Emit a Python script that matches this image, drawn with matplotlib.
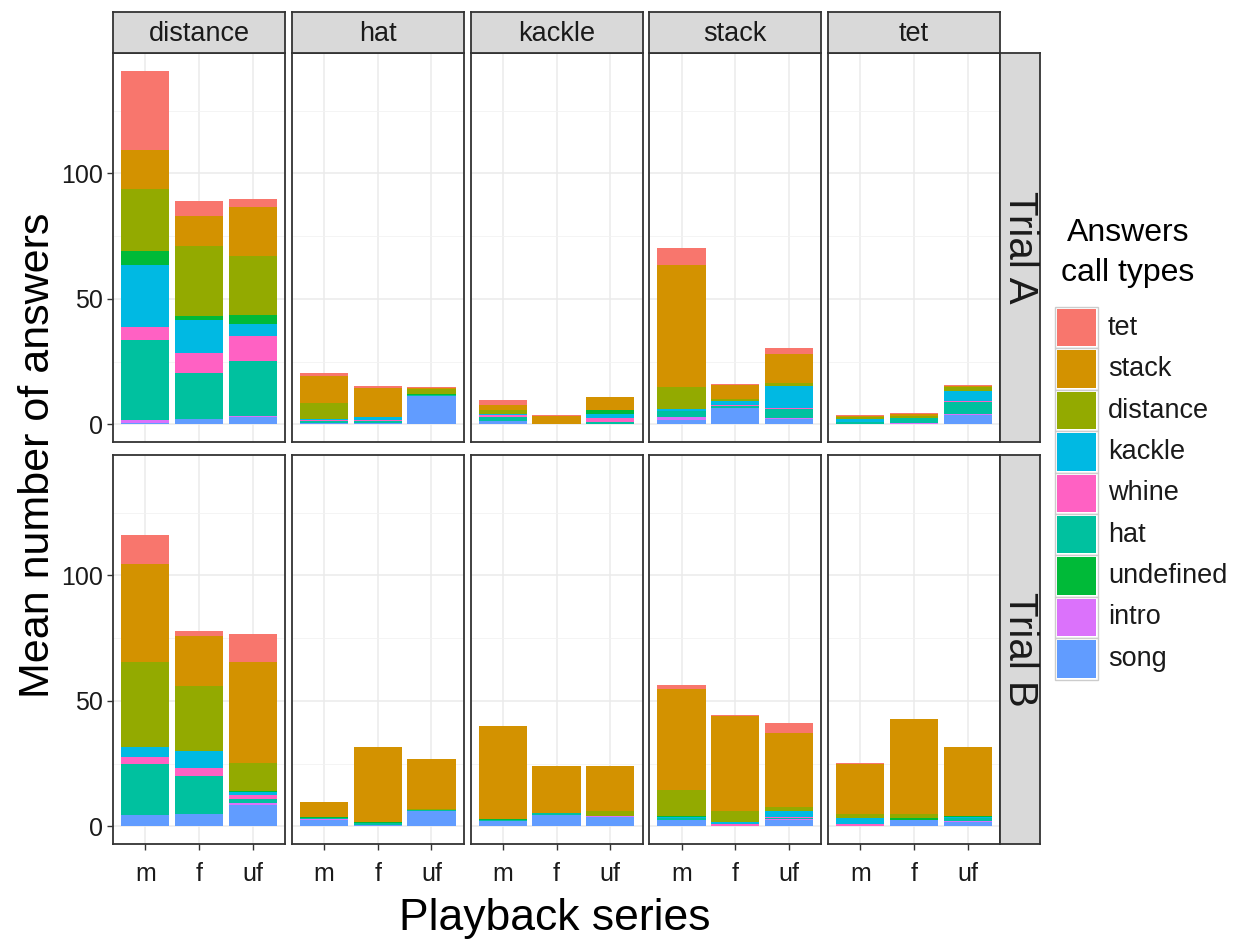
import matplotlib
matplotlib.use('Agg')
import matplotlib.pyplot as plt
from matplotlib.patches import Rectangle
import numpy as np

plt.rcParams['font.family'] = ['Liberation Sans', 'DejaVu Sans']

W, H = 1243, 947

series = ['m', 'f', 'uf']
playback = ['distance', 'hat', 'kackle', 'stack', 'tet']
trials = ['Trial A', 'Trial B']
stack_order = ['song', 'intro', 'hat', 'whine', 'kackle', 'undefined', 'distance', 'stack', 'tet']
legend_order = ['tet', 'stack', 'distance', 'kackle', 'whine', 'hat', 'undefined', 'intro', 'song']
colors = {'tet': '#F8766D', 'stack': '#D39200', 'distance': '#93AA00', 'undefined': '#00BA38',
          'hat': '#00C19F', 'kackle': '#00B9E3', 'song': '#619CFF', 'intro': '#DB72FB',
          'whine': '#FF61C3'}
yticks = [0, 50, 100]

# values: [trial][playback][series m, f, uf]
song = [
    [[0.5, 2.3, 2.9], [0.7, 0.6, 11.1], [1.2, 0, 0.3], [1.6, 6.4, 2.0], [0, 0, 3.6]],
    [[4.4, 5.0, 8.4], [2.6, 0.7, 6.2], [2.2, 4.4, 3.6], [2.4, 0.3, 2.4], [0, 2.7, 1.7]]]
intro = [
    [[1.3, 0, 0.5], [0, 0, 0], [0, 0, 0], [1.3, 0, 0.4], [0, 0.4, 0.7]],
    [[0, 0, 0.7], [0.2, 0, 0], [0, 0, 0.4], [0, 0, 0.6], [0, 0, 0.5]]]
hat = [
    [[31.8, 18.3, 22.0], [0.7, 0.7, 0.5], [1.8, 0.3, 0.8], [2.6, 0.8, 3.6], [1.0, 2.0, 4.4]],
    [[20.3, 15.0, 1.6], [0.5, 0.5, 0.4], [0.3, 0.8, 0.1], [0.9, 0, 0.5], [0, 0, 1.0]]]
whine = [
    [[5.2, 7.9, 9.8], [0.5, 0.5, 0], [0.6, 0, 1.6], [0, 0.5, 0.4], [0, 0, 0.4]],
    [[3.0, 3.2, 1.7], [0, 0, 0], [0, 0, 0], [0, 0.6, 0.3], [0.9, 0, 0]]]
kackle = [
    [[24.8, 13.0, 4.8], [0.3, 1.0, 0], [0.5, 0, 1.6], [0.8, 1.6, 8.7], [1.0, 0, 4.2]],
    [[3.8, 7.0, 1.3], [0, 0, 0], [0, 0, 0], [0.3, 0.8, 2.2], [2.3, 0, 0.4]]]
undefined = [
    [[5.4, 1.6, 3.7], [0, 0.2, 0.3], [0, 0, 1.3], [0, 0, 0], [0, 0, 0]],
    [[0, 0, 0.3], [0.5, 0.5, 0], [0.5, 0, 0], [0.4, 0, 0], [0, 0.7, 0.4]]]
distance = [
    [[24.6, 27.9, 23.2], [6.1, 0, 2.0], [1.5, 0, 0], [8.5, 0.7, 1.2], [0.9, 0.9, 1.7]],
    [[33.8, 25.9, 11.4], [0, 0, 0.4], [0, 0, 1.9], [10.3, 4.6, 1.5], [1.6, 1.7, 0]]]
stack = [
    [[15.6, 11.9, 19.6], [11.0, 11.6, 0.5], [2.2, 3.0, 5.3], [48.7, 5.7, 11.9], [0.5, 0.8, 0.3]],
    [[39.1, 19.6, 40.1], [5.7, 29.8, 19.8], [36.8, 18.7, 18.0], [40.4, 37.6, 29.8], [20.2, 37.6, 27.8]]]
tet = [
    [[31.7, 6.0, 3.2], [1.0, 0.5, 0.3], [1.7, 0.4, 0], [6.6, 0.3, 2.4], [0.4, 0.5, 0.3]],
    [[11.5, 2.0, 11.3], [0, 0.2, 0], [0, 0, 0], [1.5, 0.3, 3.8], [0.3, 0, 0]]]

values = {'song': song, 'intro': intro, 'hat': hat, 'whine': whine, 'kackle': kackle,
          'undefined': undefined, 'distance': distance, 'stack': stack, 'tet': tet}

fig = plt.figure(figsize=(W / 100, H / 100), dpi=100)


def rect(left, top, w, h):
    return [left / W, 1 - (top + h) / H, w / W, h / H]


border = '#333333'
panel_w = 172
col_step = 178.75
x0 = 113
row_tops = [53, 455]
panel_h = 389

ymax = max(sum(values[k][r][c][s] for k in stack_order)
           for r in range(2) for c in range(5) for s in range(3))
ylim = (-0.05 * ymax, 1.05 * ymax)

x = np.arange(1, 4)
for r in range(2):
    for c in range(5):
        left = x0 + c * col_step
        ax = fig.add_axes(rect(left, row_tops[r], panel_w, panel_h))
        bottom = np.zeros(3)
        for k in stack_order:
            v = np.array(values[k][r][c], dtype=float)
            ax.bar(x, v, width=0.9, bottom=bottom, color=colors[k], linewidth=0, zorder=3)
            bottom += v
        ax.set_xlim(0.4, 3.6)
        ax.set_ylim(*ylim)
        ax.set_yticks(yticks)
        ax.set_yticks([25, 75, 125], minor=True)
        ax.set_xticks(x)
        ax.grid(True, which='major', color='#EBEBEB', lw=1.1, zorder=0)
        ax.grid(True, which='minor', axis='y', color='#F2F2F2', lw=0.6, zorder=0)
        ax.set_axisbelow(True)
        for sp in ax.spines.values():
            sp.set_color(border)
            sp.set_linewidth(1.3)
        ax.tick_params(which='minor', length=0)
        ax.tick_params(which='major', length=4, width=1, color=border,
                       labelsize=18, labelcolor='#1A1A1A')
        if c == 0:
            ax.set_yticklabels([str(t) for t in yticks])
        else:
            ax.tick_params(axis='y', length=0, labelleft=False)
        if r == 1:
            ax.set_xticklabels(series)
            ax.tick_params(axis='x', pad=9)
        else:
            ax.tick_params(axis='x', length=0, labelbottom=False)

        # top strips
        if r == 0:
            sa = fig.add_axes(rect(left, 12, panel_w, 41))
            sa.set_facecolor('#D9D9D9')
            sa.set_xticks([]); sa.set_yticks([])
            for sp in sa.spines.values():
                sp.set_color(border); sp.set_linewidth(1.3)
            sa.text(0.5, 0.47, playback[c], ha='center', va='center', fontsize=19.5,
                    color='#1A1A1A', transform=sa.transAxes)

    # right strips
    sr = fig.add_axes(rect(x0 + 4 * col_step + panel_w, row_tops[r], 40, panel_h))
    sr.set_facecolor('#D9D9D9')
    sr.set_xticks([]); sr.set_yticks([])
    for sp in sr.spines.values():
        sp.set_color(border); sp.set_linewidth(1.3)
    sr.text(0.5, 0.5, trials[r], ha='center', va='center', rotation=-90, fontsize=29,
            color='#1A1A1A', transform=sr.transAxes)

# axis titles
fig.text(38 / W, 1 - 455 / H, 'Mean number of answers', rotation=90, ha='center',
         va='center', fontsize=31)
fig.text(555 / W, 1 - 918 / H, 'Playback series', ha='center', va='center', fontsize=32)

# legend
fig.text(1128 / W, 1 - 233 / H, 'Answers', ha='center', va='center', fontsize=23)
fig.text(1128 / W, 1 - 273 / H, 'call types', ha='center', va='center', fontsize=23)
key_top = 307
key_h = 41.4
for i, k in enumerate(legend_order):
    ty = key_top + i * key_h
    fig.patches.append(Rectangle((1055 / W, 1 - (ty + key_h) / H), 43 / W, key_h / H,
                                 transform=fig.transFigure, facecolor='white',
                                 edgecolor='#CCCCCC', lw=1))
    fig.patches.append(Rectangle((1057 / W, 1 - (ty + key_h - 2) / H), 39 / W, (key_h - 4) / H,
                                 transform=fig.transFigure, facecolor=colors[k],
                                 edgecolor='none'))
    fig.text(1108 / W, 1 - (ty + key_h / 2) / H, k, ha='left', va='center', fontsize=19.5,
             color='#1A1A1A')

fig.savefig('out.png', dpi=100)
